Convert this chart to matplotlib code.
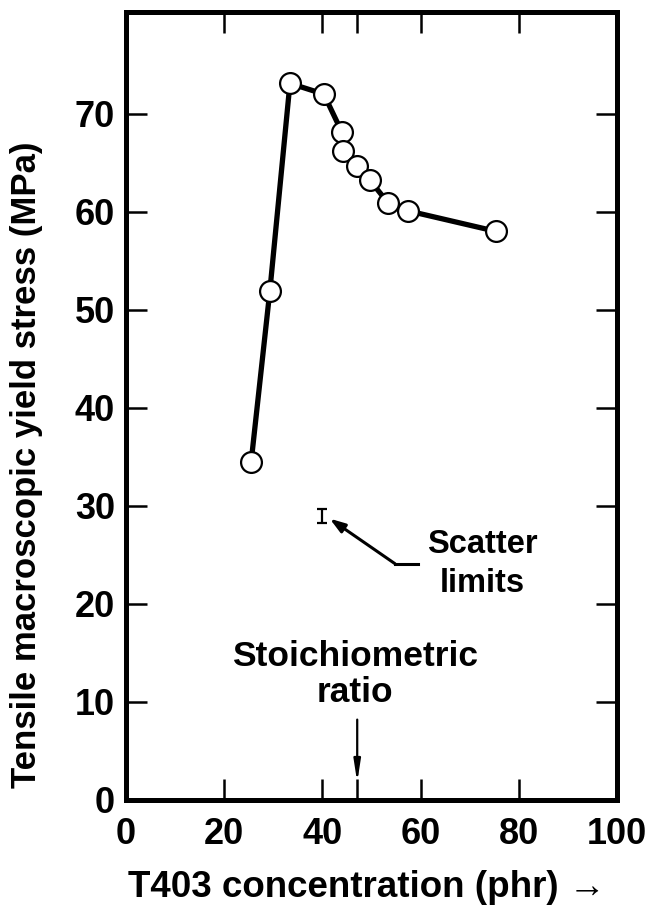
import numpy as np
import matplotlib
matplotlib.use('Agg')
from matplotlib import pyplot as plt

plt.rcParams['font.family'] = ['Liberation Sans', 'DejaVu Sans']
plt.rcParams['font.weight'] = 'bold'

# T403 concentration (phr) vs tensile yield stress (MPa)
conc = [25.5, 29.3, 33.4, 40.3, 44.0, 44.2, 47.0, 49.7, 53.4, 57.4, 75.4]
stress = [34.5, 51.9, 73.1, 72.0, 68.1, 66.2, 64.7, 63.2, 60.9, 60.1, 58.0]

# scatter limits bar
scatter_x = 39.9
scatter_y = 29.0
scatter_err = 0.7

stoich_x = 47.1

xticks = [0, 20, 40, stoich_x, 60, 80, 100]
xticklabels = ['0', '20', '40', '', '60', '80', '100']
yticks = [0, 10, 20, 30, 40, 50, 60, 70]

fig = plt.figure(figsize=(6.46, 9.06), dpi=100)
ax = fig.add_axes([0.195, 0.117, 0.760, 0.870])

ax.plot(conc, stress, color='black', lw=3.8, zorder=2)
ax.plot(conc, stress, 'o', ms=15, mfc='white', mec='black', mew=1.6, zorder=3)

ax.errorbar(scatter_x, scatter_y, yerr=scatter_err, fmt='none', ecolor='black',
            elinewidth=1.6, capsize=3.5, capthick=1.6)

# arrow to the scatter bar with a short horizontal leader
ax.plot([54.8, 59.5], [24.1, 24.1], color='black', lw=2.2)
ax.annotate('', xy=(41.5, 28.7), xytext=(54.8, 24.1),
            arrowprops=dict(arrowstyle='-|>,head_length=0.9,head_width=0.3',
                            color='black', lw=2.2, shrinkA=0, shrinkB=0))
ax.text(72.5, 24.1, 'Scatter\nlimits', ha='center', va='center',
        fontsize=23.5, fontweight='bold', linespacing=1.32)

ax.text(46.6, 12.8, 'Stoichiometric\nratio', ha='center', va='center',
        fontsize=25.5, fontweight='bold', linespacing=1.12)
ax.annotate('', xy=(stoich_x, 1.8), xytext=(stoich_x, 8.2),
            arrowprops=dict(arrowstyle='-|>,head_length=1.3,head_width=0.2',
                            color='black', lw=1.6, shrinkA=0, shrinkB=0))

ax.set_xlim(0, 100)
ax.set_ylim(0, 80.4)
ax.set_xticks(xticks)
ax.set_xticklabels(xticklabels)
ax.set_yticks(yticks)
ax.tick_params(axis='both', direction='in', length=15, width=1.8,
               labelsize=26, top=True, right=True)
ax.tick_params(axis='x', pad=12)
ax.tick_params(axis='y', pad=8)
for lab in ax.get_xticklabels() + ax.get_yticklabels():
    lab.set_fontweight('bold')
for sp in ax.spines.values():
    sp.set_linewidth(3.6)

ax.set_xlabel('T403 concentration (phr) \u2192', fontsize=26.5, fontweight='bold')
ax.set_ylabel('Tensile macroscopic yield stress (MPa)', fontsize=25, fontweight='bold')
ax.xaxis.set_label_coords(0.49, -0.089)
ax.yaxis.set_label_coords(-0.168, 0.425)

plt.savefig('out.png', dpi=100)
